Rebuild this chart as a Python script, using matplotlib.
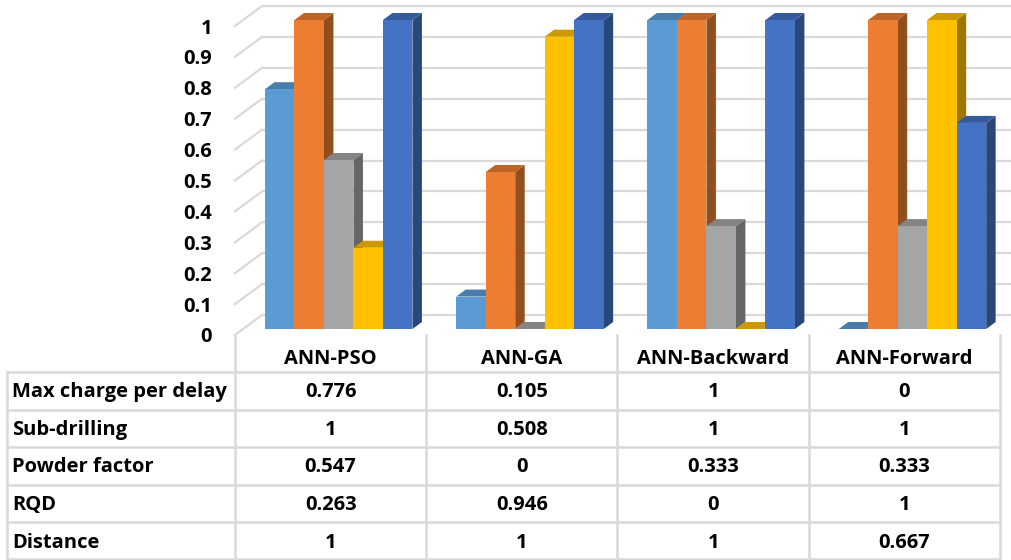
import matplotlib
matplotlib.use("Agg")
import matplotlib.pyplot as plt
from matplotlib.patches import Polygon
from matplotlib.colors import to_rgb

# ---- data -------------------------------------------------------------
models = ["ANN-PSO", "ANN-GA", "ANN-Backward", "ANN-Forward"]
series_names = ["Max charge per delay", "Sub-drilling", "Powder factor", "RQD", "Distance"]
max_charge_per_delay = [0.776, 0.105, 1, 0]
sub_drilling = [1, 0.508, 1, 1]
powder_factor = [0.547, 0, 0.333, 0.333]
rqd = [0.263, 0.946, 0, 1]
distance = [1, 1, 1, 0.667]
series_values = [max_charge_per_delay, sub_drilling, powder_factor, rqd, distance]
y_ticks = [0, 0.1, 0.2, 0.3, 0.4, 0.5, 0.6, 0.7, 0.8, 0.9, 1]
y_tick_labels = ["0", "0.1", "0.2", "0.3", "0.4", "0.5", "0.6", "0.7", "0.8", "0.9", "1"]

# ---- style ------------------------------------------------------------
face_colors = ["#5B9BD5", "#ED7D31", "#A5A5A5", "#FFC000", "#4472C4"]
grid_color = "#D9D9D9"
text_color = "#000000"
FONT = "Open Sans"
FS = 14.5

def shade(c, f):
    r, g, b = to_rgb(c)
    return (r * f, g * f, b * f)

W, H = 1012, 560
fig = plt.figure(figsize=(W / 100, H / 100), dpi=100)
fig.patch.set_facecolor("white")

# plot area geometry (pixels)
left_px, right_px = 235, 1000      # front edge of floor spanning the four columns
floor_px = 335                     # front edge of floor (value 0)
unit_px = 309                      # pixels per 1.0 on the value axis
depth_px = (27, 20)                # oblique depth offset of the back wall

col_px = (right_px - left_px) / len(models)
ax = fig.add_axes([left_px / W, (H - floor_px) / H, (right_px - left_px) / W, floor_px / H])
ax.set_xlim(0, len(models))
ax.set_ylim(0, floor_px / unit_px)
for s in ax.spines.values():
    s.set_visible(False)
ax.set_xticks([])
ax.set_yticks(y_ticks)
ax.set_yticklabels(y_tick_labels, fontfamily=FONT, fontweight="bold", fontsize=FS, color=text_color)
ax.tick_params(axis="y", length=0, pad=23 * 72 / 100)
ax.set_facecolor("none")

WX = depth_px[0] / col_px
WY = depth_px[1] / unit_px
x_right = (W - left_px) / col_px

# back wall gridlines and left wall diagonals
for v in y_ticks:
    ax.plot([WX, x_right], [v + WY, v + WY], color=grid_color, lw=1.6,
            clip_on=False, zorder=1, solid_capstyle="butt")
    ax.plot([0, WX], [v, v + WY], color=grid_color, lw=1.6, clip_on=False, zorder=1)

# 3D-looking bars
n_series = len(series_values)
bar_w = 0.1542
margin = (1 - n_series * bar_w) / 2
f0, f1 = 0.30, 0.65
d = f1 - f0
z = 2
for j in range(len(models)):
    for k in range(n_series):
        h = series_values[k][j]
        c = face_colors[k]
        x0 = j + margin + k * bar_w + f0 * WX
        b = f0 * WY
        x1 = x0 + bar_w
        side = [(x1, b), (x1, b + h), (x1 + d * WX, b + h + d * WY), (x1 + d * WX, b + d * WY)]
        top = [(x0, b + h), (x1, b + h), (x1 + d * WX, b + h + d * WY), (x0 + d * WX, b + h + d * WY)]
        front = [(x0, b), (x1, b), (x1, b + h), (x0, b + h)]
        ax.add_patch(Polygon(side, closed=True, facecolor=shade(c, 0.62), edgecolor="none", zorder=z, clip_on=False))
        ax.add_patch(Polygon(top, closed=True, facecolor=shade(c, 0.80), edgecolor="none", zorder=z, clip_on=False))
        ax.add_patch(Polygon(front, closed=True, facecolor=c, edgecolor="none", zorder=z, clip_on=False))
        z += 1

# ---- data table --------------------------------------------------------
tax = fig.add_axes([0, 0, 1, 1], zorder=-1)
tax.set_xlim(0, W)
tax.set_ylim(H, 0)
tax.axis("off")

col_edges = [left_px + i * col_px for i in range(len(models) + 1)]
label_left = 7
header_top = 335
row_top = 372
row_h = 37.6
n_rows = len(series_names)
row_edges = [row_top + i * row_h for i in range(n_rows + 1)]
row_edges[-1] = min(row_edges[-1], H - 1)

lw = 1.8
for xe in col_edges:
    tax.plot([xe, xe], [header_top, H], color=grid_color, lw=lw)
tax.plot([label_left, label_left], [row_top, H], color=grid_color, lw=lw)
for ye in row_edges:
    tax.plot([label_left, col_edges[-1]], [ye, ye], color=grid_color, lw=lw)

for i, m in enumerate(models):
    cx = (col_edges[i] + col_edges[i + 1]) / 2
    tax.text(cx, 359, m, ha="center", va="center", fontfamily=FONT,
             fontweight="bold", fontsize=FS, color=text_color)

for r, name in enumerate(series_names):
    cy = row_top + (r + 0.5) * row_h + 1.5
    tax.text(12.5, cy, name, ha="left", va="center", fontfamily=FONT,
             fontweight="bold", fontsize=FS, color=text_color)
    for i in range(len(models)):
        cx = (col_edges[i] + col_edges[i + 1]) / 2
        tax.text(cx, cy, f"{series_values[r][i]:g}", ha="center", va="center",
                 fontfamily=FONT, fontweight="bold", fontsize=FS, color=text_color)

fig.savefig("out.png", dpi=100, facecolor="white")
